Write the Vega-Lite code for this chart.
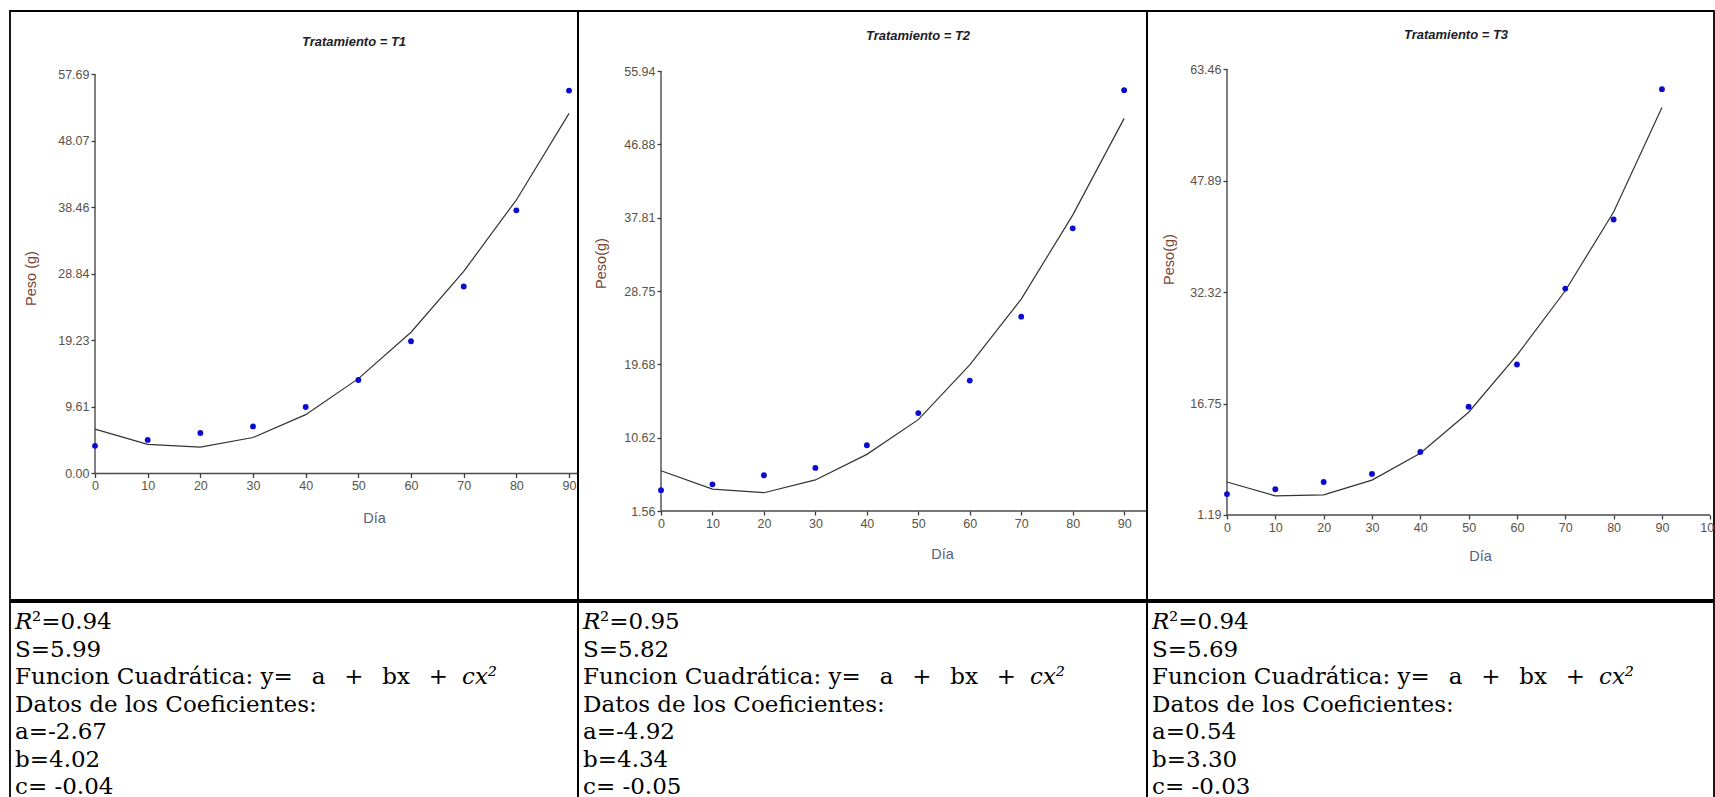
{
  "$schema": "https://vega.github.io/schema/vega-lite/v6.json",
  "background": "white",
  "padding": {"left": 9, "top": 10, "right": 0, "bottom": 0},
  "spacing": 0,
  "config": {
    "view": {"stroke": "#000000", "strokeWidth": 1.8},
    "axis": {
      "domain": false,
      "grid": false,
      "ticks": true,
      "tickSize": 4,
      "tickWidth": 1.3,
      "tickColor": "#3c3c3c",
      "labelFont": "Liberation Sans",
      "labelFontSize": 12.5,
      "labelColor": "#5a5248",
      "labelPadding": 2,
      "labelOverlap": false,
      "labelBound": false,
      "labelFlush": false,
      "titleFont": "Liberation Sans",
      "titleFontSize": 14.5,
      "titleFontWeight": "normal",
      "titleBaseline": "middle",
      "titleAlign": "center"
    },
    "axisY": {"titleColor": "#7a4638", "titleAngle": -90},
    "axisX": {"titleColor": "#56607a"},
    "title": {
      "font": "Liberation Sans",
      "fontSize": 13,
      "fontStyle": "italic",
      "fontWeight": "bold",
      "color": "#1c1c28",
      "anchor": "middle",
      "frame": "group"
    },
    "text": {"font": "DejaVu Serif", "fontSize": 23, "color": "#000000", "align": "left", "baseline": "middle"}
  },
  "datasets": {
    "puntos": [
      {"trat": "T1", "dia": 0, "peso": 4.0},
      {"trat": "T1", "dia": 10, "peso": 4.85},
      {"trat": "T1", "dia": 20, "peso": 5.85},
      {"trat": "T1", "dia": 30, "peso": 6.8},
      {"trat": "T1", "dia": 40, "peso": 9.6},
      {"trat": "T1", "dia": 50, "peso": 13.5},
      {"trat": "T1", "dia": 60, "peso": 19.1},
      {"trat": "T1", "dia": 70, "peso": 27.0},
      {"trat": "T1", "dia": 80, "peso": 38.0},
      {"trat": "T1", "dia": 90, "peso": 55.3},
      {"trat": "T2", "dia": 0, "peso": 4.13},
      {"trat": "T2", "dia": 10, "peso": 4.86},
      {"trat": "T2", "dia": 20, "peso": 5.98},
      {"trat": "T2", "dia": 30, "peso": 6.89},
      {"trat": "T2", "dia": 40, "peso": 9.69},
      {"trat": "T2", "dia": 50, "peso": 13.66},
      {"trat": "T2", "dia": 60, "peso": 17.68},
      {"trat": "T2", "dia": 70, "peso": 25.58},
      {"trat": "T2", "dia": 80, "peso": 36.5},
      {"trat": "T2", "dia": 90, "peso": 53.57},
      {"trat": "T3", "dia": 0, "peso": 4.11},
      {"trat": "T3", "dia": 10, "peso": 4.78},
      {"trat": "T3", "dia": 20, "peso": 5.8},
      {"trat": "T3", "dia": 30, "peso": 6.93},
      {"trat": "T3", "dia": 40, "peso": 10.0},
      {"trat": "T3", "dia": 50, "peso": 16.31},
      {"trat": "T3", "dia": 60, "peso": 22.2},
      {"trat": "T3", "dia": 70, "peso": 32.8},
      {"trat": "T3", "dia": 80, "peso": 42.45},
      {"trat": "T3", "dia": 90, "peso": 60.65}
    ],
    "ajuste": [
      {"trat": "T1", "dia": 0, "peso": 6.4},
      {"trat": "T1", "dia": 10, "peso": 4.2},
      {"trat": "T1", "dia": 20, "peso": 3.8},
      {"trat": "T1", "dia": 30, "peso": 5.2},
      {"trat": "T1", "dia": 40, "peso": 8.5},
      {"trat": "T1", "dia": 50, "peso": 13.7},
      {"trat": "T1", "dia": 60, "peso": 20.4},
      {"trat": "T1", "dia": 70, "peso": 29.2},
      {"trat": "T1", "dia": 80, "peso": 39.5},
      {"trat": "T1", "dia": 90, "peso": 52.0},
      {"trat": "T2", "dia": 0, "peso": 6.53},
      {"trat": "T2", "dia": 10, "peso": 4.27},
      {"trat": "T2", "dia": 20, "peso": 3.82},
      {"trat": "T2", "dia": 30, "peso": 5.4},
      {"trat": "T2", "dia": 40, "peso": 8.56},
      {"trat": "T2", "dia": 50, "peso": 12.85},
      {"trat": "T2", "dia": 60, "peso": 19.62},
      {"trat": "T2", "dia": 70, "peso": 27.75},
      {"trat": "T2", "dia": 80, "peso": 38.13},
      {"trat": "T2", "dia": 90, "peso": 50.09},
      {"trat": "T3", "dia": 0, "peso": 5.8},
      {"trat": "T3", "dia": 10, "peso": 3.86},
      {"trat": "T3", "dia": 20, "peso": 4.01},
      {"trat": "T3", "dia": 30, "peso": 6.06},
      {"trat": "T3", "dia": 40, "peso": 9.8},
      {"trat": "T3", "dia": 50, "peso": 15.54},
      {"trat": "T3", "dia": 60, "peso": 23.5},
      {"trat": "T3", "dia": 70, "peso": 32.5},
      {"trat": "T3", "dia": 80, "peso": 43.5},
      {"trat": "T3", "dia": 90, "peso": 58.1}
    ],
    "ejes": [
      {"trat": "T1", "dia": 0, "dia2": 0, "peso": 0, "peso2": 57.69},
      {"trat": "T1", "dia": 0, "dia2": 91.7, "peso": 0, "peso2": 0},
      {"trat": "T2", "dia": 0, "dia2": 0, "peso": 1.56, "peso2": 55.94},
      {"trat": "T2", "dia": 0, "dia2": 94.44, "peso": 1.56, "peso2": 1.56},
      {"trat": "T3", "dia": 0, "dia2": 0, "peso": 1.19, "peso2": 63.46},
      {"trat": "T3", "dia": 0, "dia2": 100, "peso": 1.19, "peso2": 1.19}
    ],
    "lineas": [
      {"trat": "T1", "linea": 2, "texto": "S=5.99"},
      {"trat": "T1", "linea": 3, "texto": "Funcion Cuadrática: y=\u00a0\u2002a\u00a0\u2002+\u00a0\u2002bx\u00a0\u2002+"},
      {"trat": "T1", "linea": 4, "texto": "Datos de los Coeficientes:"},
      {"trat": "T1", "linea": 5, "texto": "a=-2.67"},
      {"trat": "T1", "linea": 6, "texto": "b=4.02"},
      {"trat": "T1", "linea": 7, "texto": "c= -0.04"},
      {"trat": "T2", "linea": 2, "texto": "S=5.82"},
      {"trat": "T2", "linea": 3, "texto": "Funcion Cuadrática: y=\u00a0\u2002a\u00a0\u2002+\u00a0\u2002bx\u00a0\u2002+"},
      {"trat": "T2", "linea": 4, "texto": "Datos de los Coeficientes:"},
      {"trat": "T2", "linea": 5, "texto": "a=-4.92"},
      {"trat": "T2", "linea": 6, "texto": "b=4.34"},
      {"trat": "T2", "linea": 7, "texto": "c= -0.05"},
      {"trat": "T3", "linea": 2, "texto": "S=5.69"},
      {"trat": "T3", "linea": 3, "texto": "Funcion Cuadrática: y=\u00a0\u2002a\u00a0\u2002+\u00a0\u2002bx\u00a0\u2002+"},
      {"trat": "T3", "linea": 4, "texto": "Datos de los Coeficientes:"},
      {"trat": "T3", "linea": 5, "texto": "a=0.54"},
      {"trat": "T3", "linea": 6, "texto": "b=3.30"},
      {"trat": "T3", "linea": 7, "texto": "c= -0.03"}
    ],
    "r2": [
      {"trat": "T1", "linea": 1, "simbolo": "R", "valor": "²=0.94"},
      {"trat": "T2", "linea": 1, "simbolo": "R", "valor": "²=0.95"},
      {"trat": "T3", "linea": 1, "simbolo": "R", "valor": "²=0.94"}
    ],
    "cuadratica": [
      {"trat": "T1", "linea": 3, "termino": "cx²"},
      {"trat": "T2", "linea": 3, "termino": "cx²"},
      {"trat": "T3", "linea": 3, "termino": "cx²"}
    ]
  },
  "vconcat": [
    {
      "spacing": 0,
      "bounds": "flush",
      "hconcat": [
        {
          "width": 568,
          "height": 589,
          "title": {"text": "Tratamiento = T1", "offset": -37.5, "dx": 60},
          "encoding": {
            "x": {"field": "dia", "type": "quantitative",
                  "scale": {"domain": [-16.14, 91.7], "nice": false, "zero": false},
                  "axis": {"offset": -126.5, "values": [0, 10, 20, 30, 40, 50, 60, 70, 80, 90], "format": "d",
                           "title": "Día", "titleX": 364, "titleY": 44.5}},
            "y": {"field": "peso", "type": "quantitative",
                  "scale": {"domain": [-18.27, 66.79], "nice": false, "zero": false},
                  "axis": {"offset": -85, "values": [0, 9.61, 19.23, 28.84, 38.46, 48.07, 57.69], "format": ".2f",
                           "title": "Peso (g)", "titleX": -64, "titleY": 267}}
          },
          "layer": [
            {"data": {"name": "ejes"}, "transform": [{"filter": "datum.trat === 'T1'"}],
             "mark": {"type": "rule", "color": "#4a4a4a", "strokeWidth": 1.4},
             "encoding": {"x2": {"field": "dia2"}, "y2": {"field": "peso2"}}},
            {"data": {"name": "ajuste"}, "transform": [{"filter": "datum.trat === 'T1'"}],
             "mark": {"type": "line", "color": "#333333", "strokeWidth": 1.2},
             "encoding": {}},
            {"data": {"name": "puntos"}, "transform": [{"filter": "datum.trat === 'T1'"}],
             "mark": {"type": "point", "filled": true, "color": "#0b0bd0", "size": 34, "opacity": 1},
             "encoding": {}}
          ]
        },
        {
          "width": 569,
          "height": 589,
          "title": {"text": "Tratamiento = T2", "offset": -32, "dx": 55.5},
          "encoding": {
            "x": {"field": "dia", "type": "quantitative",
                  "scale": {"domain": [-16.13, 94.44], "nice": false, "zero": false},
                  "axis": {"offset": -89, "values": [0, 10, 20, 30, 40, 50, 60, 70, 80, 90], "format": "d",
                           "title": "Día", "titleX": 364, "titleY": 43}},
            "y": {"field": "peso", "type": "quantitative",
                  "scale": {"domain": [-9.44, 63.36], "nice": false, "zero": false},
                  "axis": {"offset": -83, "values": [1.56, 10.62, 19.68, 28.75, 37.81, 46.88, 55.94], "format": ".2f",
                           "title": "Peso(g)", "titleX": -60, "titleY": 252}}
          },
          "layer": [
            {"data": {"name": "ejes"}, "transform": [{"filter": "datum.trat === 'T2'"}],
             "mark": {"type": "rule", "color": "#4a4a4a", "strokeWidth": 1.4},
             "encoding": {"x2": {"field": "dia2"}, "y2": {"field": "peso2"}}},
            {"data": {"name": "ajuste"}, "transform": [{"filter": "datum.trat === 'T2'"}],
             "mark": {"type": "line", "color": "#333333", "strokeWidth": 1.2},
             "encoding": {}},
            {"data": {"name": "puntos"}, "transform": [{"filter": "datum.trat === 'T2'"}],
             "mark": {"type": "point", "filled": true, "color": "#0b0bd0", "size": 34, "opacity": 1},
             "encoding": {}}
          ]
        },
        {
          "width": 567,
          "height": 589,
          "title": {"text": "Tratamiento = T3", "offset": -31, "dx": 25.5},
          "encoding": {
            "x": {"field": "dia", "type": "quantitative",
                  "scale": {"domain": [-16.55, 100.77], "nice": false, "zero": false},
                  "axis": {"offset": -85, "values": [0, 10, 20, 30, 40, 50, 60, 70, 80, 90, 100], "format": "d",
                           "title": "Día", "titleX": 333, "titleY": 41}},
            "y": {"field": "peso", "type": "quantitative",
                  "scale": {"domain": [-10.68, 71.56], "nice": false, "zero": false},
                  "axis": {"offset": -80, "values": [1.19, 16.75, 32.32, 47.89, 63.46], "format": ".2f",
                           "title": "Peso(g)", "titleX": -58, "titleY": 248}}
          },
          "layer": [
            {"data": {"name": "ejes"}, "transform": [{"filter": "datum.trat === 'T3'"}],
             "mark": {"type": "rule", "color": "#4a4a4a", "strokeWidth": 1.4},
             "encoding": {"x2": {"field": "dia2"}, "y2": {"field": "peso2"}}},
            {"data": {"name": "ajuste"}, "transform": [{"filter": "datum.trat === 'T3'"}],
             "mark": {"type": "line", "color": "#333333", "strokeWidth": 1.2},
             "encoding": {}},
            {"data": {"name": "puntos"}, "transform": [{"filter": "datum.trat === 'T3'"}],
             "mark": {"type": "point", "filled": true, "color": "#0b0bd0", "size": 34, "opacity": 1},
             "encoding": {}}
          ]
        }
      ]
    },
    {
      "spacing": 0,
      "bounds": "flush",
      "hconcat": [
        {
          "width": 568,
          "height": 196,
          "encoding": {
            "x": {"datum": 0, "type": "quantitative", "scale": {"domain": [0, 1]}, "axis": null},
            "y": {"field": "linea", "type": "quantitative", "scale": {"domain": [0.27, 7.4], "reverse": true}, "axis": null}
          },
          "layer": [
            {"data": {"name": "lineas"}, "transform": [{"filter": "datum.trat === 'T1'"}],
             "mark": {"type": "text", "dx": 5}, "encoding": {"text": {"field": "texto"}}},
            {"data": {"name": "r2"}, "transform": [{"filter": "datum.trat === 'T1'"}],
             "mark": {"type": "text", "dx": 5, "fontStyle": "italic"}, "encoding": {"text": {"field": "simbolo"}}},
            {"data": {"name": "r2"}, "transform": [{"filter": "datum.trat === 'T1'"}],
             "mark": {"type": "text", "dx": 22}, "encoding": {"text": {"field": "valor"}}},
            {"data": {"name": "cuadratica"}, "transform": [{"filter": "datum.trat === 'T1'"}],
             "mark": {"type": "text", "dx": 452, "fontStyle": "italic"}, "encoding": {"text": {"field": "termino"}}}
          ]
        },
        {
          "width": 569,
          "height": 196,
          "encoding": {
            "x": {"datum": 0, "type": "quantitative", "scale": {"domain": [0, 1]}, "axis": null},
            "y": {"field": "linea", "type": "quantitative", "scale": {"domain": [0.27, 7.4], "reverse": true}, "axis": null}
          },
          "layer": [
            {"data": {"name": "lineas"}, "transform": [{"filter": "datum.trat === 'T2'"}],
             "mark": {"type": "text", "dx": 5}, "encoding": {"text": {"field": "texto"}}},
            {"data": {"name": "r2"}, "transform": [{"filter": "datum.trat === 'T2'"}],
             "mark": {"type": "text", "dx": 5, "fontStyle": "italic"}, "encoding": {"text": {"field": "simbolo"}}},
            {"data": {"name": "r2"}, "transform": [{"filter": "datum.trat === 'T2'"}],
             "mark": {"type": "text", "dx": 22}, "encoding": {"text": {"field": "valor"}}},
            {"data": {"name": "cuadratica"}, "transform": [{"filter": "datum.trat === 'T2'"}],
             "mark": {"type": "text", "dx": 452, "fontStyle": "italic"}, "encoding": {"text": {"field": "termino"}}}
          ]
        },
        {
          "width": 567,
          "height": 196,
          "encoding": {
            "x": {"datum": 0, "type": "quantitative", "scale": {"domain": [0, 1]}, "axis": null},
            "y": {"field": "linea", "type": "quantitative", "scale": {"domain": [0.27, 7.4], "reverse": true}, "axis": null}
          },
          "layer": [
            {"data": {"name": "lineas"}, "transform": [{"filter": "datum.trat === 'T3'"}],
             "mark": {"type": "text", "dx": 5}, "encoding": {"text": {"field": "texto"}}},
            {"data": {"name": "r2"}, "transform": [{"filter": "datum.trat === 'T3'"}],
             "mark": {"type": "text", "dx": 5, "fontStyle": "italic"}, "encoding": {"text": {"field": "simbolo"}}},
            {"data": {"name": "r2"}, "transform": [{"filter": "datum.trat === 'T3'"}],
             "mark": {"type": "text", "dx": 22}, "encoding": {"text": {"field": "valor"}}},
            {"data": {"name": "cuadratica"}, "transform": [{"filter": "datum.trat === 'T3'"}],
             "mark": {"type": "text", "dx": 452, "fontStyle": "italic"}, "encoding": {"text": {"field": "termino"}}}
          ]
        }
      ]
    }
  ]
}
